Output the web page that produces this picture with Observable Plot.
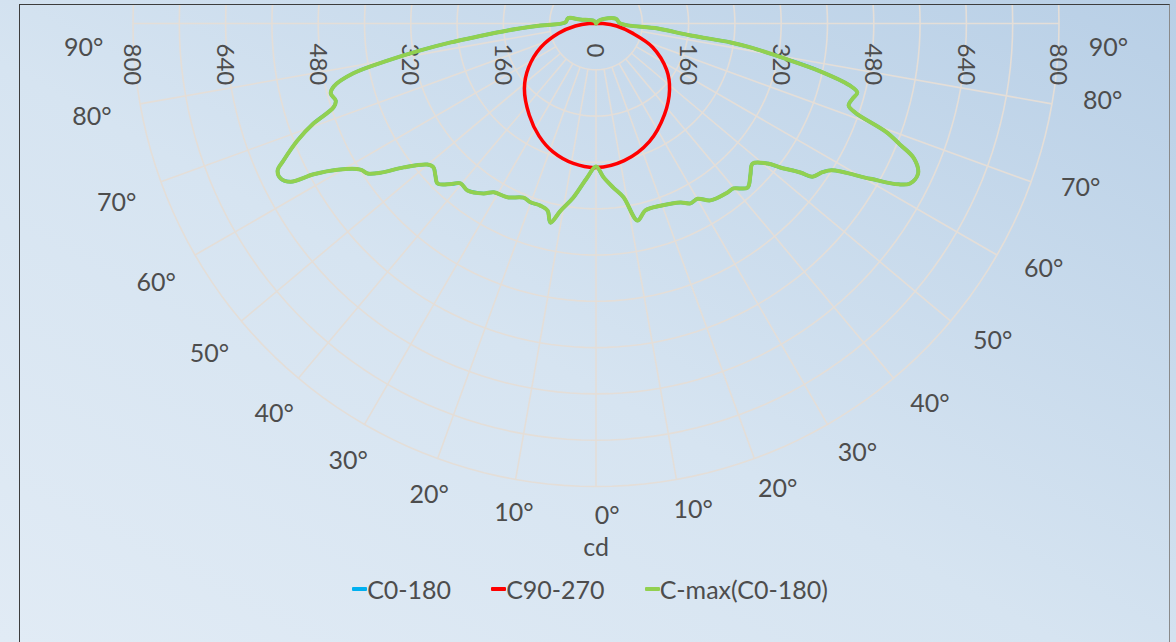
<!DOCTYPE html>
<html><head><meta charset="utf-8">
<script src="https://cdn.jsdelivr.net/npm/d3@7"></script>
<script src="https://cdn.jsdelivr.net/npm/@observablehq/plot@0.6"></script>
<style>
html,body{margin:0;padding:0;}
#wrap{position:relative;width:1176px;height:642px;overflow:hidden;background:linear-gradient(to top right,#e1ebf5 0%,#d6e4f1 45%,#b8cfe6 100%);font-family:Lato,sans-serif;}
#frame{position:absolute;left:19px;top:4px;width:1149px;height:660px;border-left:1.6px solid #3d3d3d;border-top:1.6px solid #3d3d3d;border-right:1.6px solid #8a8a8a;}
#chart{position:absolute;left:0;top:0;}
#legend{position:absolute;left:2px;top:570px;width:1176px;height:38px;display:flex;justify-content:center;align-items:center;gap:40px;font-size:25px;color:#4d4d4d;}
.item{display:flex;align-items:center;}
.sw{width:15px;height:3.5px;border-radius:1px;}
</style></head><body>
<div id="wrap"><div id="frame"></div><div id="chart"></div><div id="legend"></div></div>
<script>
// ---- data (gamma angle in degrees, intensity in cd) ----
const ringValues = [80,160,240,320,400,480,560,640,720,800];
const ringLabels = [0,160,320,480,640,800];
const angleTicks = [0,10,20,30,40,50,60,70,80,90];

const seriesNames = ["C0-180","C90-270","C-max(C0-180)"];
const seriesColors = ["#00b0f0","#ff0000","#92d050"];

// C-max(C0-180) — left half (C180 side)
const cmaxLeftGamma = [0,3.2,7.4,10.7,12.9,14.5,17,20.1,22.6,27,31.2,33.5,37.6,40.3,42,44.7,46.6,48.5,50.1,53.2,55.3,56.7,58.2,60.5,61.9,62.6,63.8,65.2,66.3,68.6,70.5,72.3,73.5,75.2,76.5,78.4,79.9,81.3,82.6,83.5,85.5,87.9,92,101,104,140,180];
const cmaxLeftCd    = [247,266,303,329,353,334,329,329,326,337,341,352,364,362,373,389,382,375,380,415,453,472,479,513,553,594,607,606,590,554,518,476,469,474,466,428,366,307,253,213,153,96,53,49,28,6,0];
// C-max(C0-180) — right half (C0 side)
const cmaxRightGamma = [0,2.8,6,9,11.9,14.8,19.5,25.3,27.7,30.1,32.9,37.9,39.8,42.7,45.5,48.2,50.8,52,53.9,54.7,56.7,58.1,60.5,62,63,65,67,68.3,69.5,71,72,73.7,75.2,76.3,78,79.4,81.2,82,82.8,85.3,90,104,130,180];
const cmaxRightCd    = [247,266,285,304,348,334,334,342,351,350,364,370,371,386,374,363,383,404,437,458,468,480,545,592,609,614,597,565,535,474,459,462,467,451,395,335,270,235,165,107,42,35,10,0];
// C0-180 (coincides with C-max)
const c0LeftGamma = cmaxLeftGamma, c0LeftCd = cmaxLeftCd;
const c0RightGamma = cmaxRightGamma, c0RightCd = cmaxRightCd;
// C90-270
const c270Gamma = [0,9.2,18.5,26.8,36,47.8,56.9,66.6,75.4,83,90,180];
const c270Cd    = [249,245,234,218,196,167,139,104,67,36,12,0];
const c90Gamma  = [0,11.6,24.3,36.9,48,56.7,67.3,75,83,90,180];
const c90Cd     = [249,242,224,197,171,146,106,66,36,12,0];

// ---- layout ----
const W = 1176, H = 570;
const mL = 20, mR = 6, mT = 5, mB = 0;
const cx = 595.5, cy = 23, K = 463/800; // px per cd
const xDom = [(mL-cx)/K, (W-mR-cx)/K];
const yDom = [(mT-cy)/K, (H-mB-cy)/K];
const rad = d => d*Math.PI/180;
const polar = (g, r, side) => ({x: side*r*Math.sin(rad(g)), y: r*Math.cos(rad(g))});

function halfPath(gL, vL, gR, vR, name) {
  const pts = [];
  for (let i = gL.length-1; i >= 0; i--) pts.push({...polar(gL[i], vL[i], -1), s: name});
  for (let i = 1; i < gR.length; i++) pts.push({...polar(gR[i], vR[i], 1), s: name});
  return pts;
}
const blue = halfPath(c0LeftGamma, c0LeftCd, c0RightGamma, c0RightCd, seriesNames[0]);
const red = halfPath(c270Gamma, c270Cd, c90Gamma, c90Cd, seriesNames[1]);
const green = halfPath(cmaxLeftGamma, cmaxLeftCd, cmaxRightGamma, cmaxRightCd, seriesNames[2]);

// grid
const rings = [];
for (const r of ringValues) for (let a = 0; a <= 360; a += 2) rings.push({...polar(a, r, 1), r});
const spokes = [];
for (const a of angleTicks) for (const side of (a === 0 ? [1] : [-1, 1])) {
  const p1 = polar(a, ringValues[0], side), p2 = polar(a, ringValues[ringValues.length-1], side);
  spokes.push({x1: p1.x, y1: p1.y, x2: p2.x, y2: p2.y});
}
const radialLbl = [];
for (const v of ringLabels) for (const side of (v === 0 ? [1] : [-1, 1])) radialLbl.push({x: side*v, y: 0, t: String(v)});
const angLbl = [];
for (const a of angleTicks) for (const side of (a === 0 ? [1] : [-1, 1])) {
  const eff = a === 90 ? 87.3 : a + (side > 0 ? 1.3 : -0.5);
  const rl = (493 + 20*Math.sin(rad(a))) / K;
  angLbl.push({...polar(eff, rl, side), t: a + "°"});
}

const txt = "#4d4d4d";
const chart = Plot.plot({
  width: W, height: H,
  marginLeft: mL, marginRight: mR, marginTop: mT, marginBottom: mB,
  style: {background: "transparent", fontFamily: "Lato, sans-serif", overflow: "visible"},
  x: {domain: xDom, range: [mL, W - mR], axis: null},
  y: {domain: yDom, range: [mT, H - mB], axis: null},
  marks: [
    Plot.line(rings, {x: "x", y: "y", z: "r", stroke: "#e4ded8", strokeWidth: 1.6, clip: true}),
    Plot.link(spokes, {x1: "x1", y1: "y1", x2: "x2", y2: "y2", stroke: "#e4ded8", strokeWidth: 1.6, clip: true}),
    Plot.text(radialLbl, {x: "x", y: "y", text: "t", rotate: 90, textAnchor: "start", dy: 20, dx: -1, fontSize: 24, fill: txt}),
    Plot.text(angLbl, {x: "x", y: "y", text: "t", fontSize: 25, fill: txt}),
    Plot.text(["cd"], {x: () => 0, frameAnchor: "bottom", dy: -15, text: d => d, fontSize: 25, fill: txt}),
    Plot.line(blue, {x: "x", y: "y", stroke: seriesColors[0], strokeWidth: 3.5, curve: "catmull-rom"}),
    Plot.line(red, {x: "x", y: "y", stroke: seriesColors[1], strokeWidth: 3.5, curve: "catmull-rom"}),
    Plot.line(green, {x: "x", y: "y", stroke: seriesColors[2], strokeWidth: 4, curve: "catmull-rom"})
  ]
});
document.getElementById("chart").appendChild(chart);

const leg = document.getElementById("legend");
seriesNames.forEach((n, i) => {
  const it = document.createElement("div"); it.className = "item";
  const sw = document.createElement("span"); sw.className = "sw"; sw.style.background = seriesColors[i];
  const t = document.createElement("span"); t.textContent = n;
  it.appendChild(sw); it.appendChild(t); leg.appendChild(it);
});
</script>
</body></html>
